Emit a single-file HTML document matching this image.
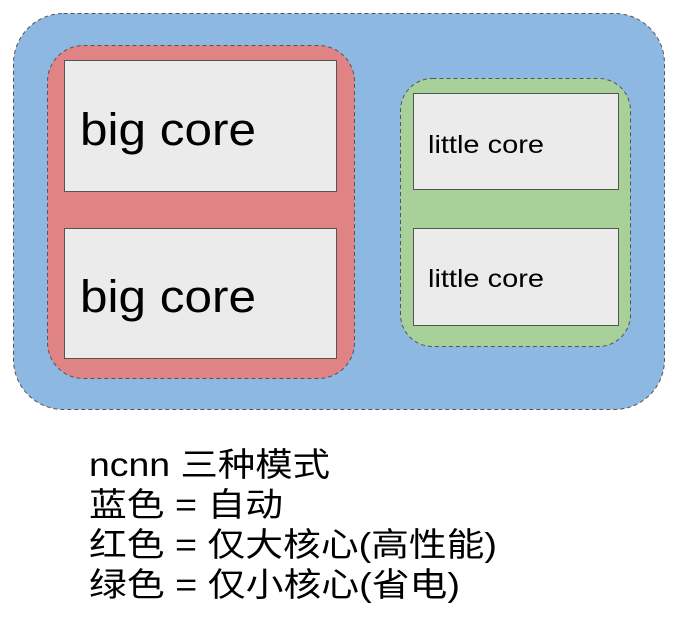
<!DOCTYPE html>
<html><head><meta charset="utf-8"><style>
body{margin:0;width:675px;height:627px;background:#fff;overflow:hidden}
</style></head><body>
<svg width="675" height="627" xmlns="http://www.w3.org/2000/svg" style="position:absolute;left:0;top:0">
<rect x="13.5" y="13.5" width="651" height="396" rx="50" fill="#8db8e2" stroke="#555" stroke-dasharray="4,3"/>
<rect x="47.5" y="45.5" width="307" height="333" rx="36" fill="#e08385" stroke="#555" stroke-dasharray="4,3"/>
<rect x="64.5" y="60.5" width="272" height="131" fill="#ebebeb" stroke="#555"/>
<rect x="64.5" y="228.5" width="272" height="130" fill="#ebebeb" stroke="#555"/>
<rect x="400.5" y="78.5" width="230" height="268" rx="32" fill="#a8d19a" stroke="#555" stroke-dasharray="4,3"/>
<rect x="413.5" y="93.5" width="205" height="96" fill="#ebebeb" stroke="#555"/>
<rect x="413.5" y="228.5" width="205" height="97" fill="#ebebeb" stroke="#555"/>
<g font-family="Liberation Sans, sans-serif" fill="#000">
<text x="80" y="145" font-size="45" textLength="176" lengthAdjust="spacingAndGlyphs">big core</text>
<text x="80" y="312" font-size="45" textLength="176" lengthAdjust="spacingAndGlyphs">big core</text>
<text x="428" y="153" font-size="25" textLength="116" lengthAdjust="spacingAndGlyphs">little core</text>
<text x="428" y="287" font-size="25" textLength="116" lengthAdjust="spacingAndGlyphs">little core</text>
</g>
<g font-family="Liberation Sans, 'Noto Sans CJK SC', sans-serif" font-size="33" fill="#000" lengthAdjust="spacingAndGlyphs">
<text x="89" y="476" textLength="241" lengthAdjust="spacingAndGlyphs">ncnn 三种模式</text>
<text x="89" y="516" textLength="194" lengthAdjust="spacingAndGlyphs">蓝色 = 自动</text>
<text x="89" y="556" textLength="408" lengthAdjust="spacingAndGlyphs">红色 = 仅大核心(高性能)</text>
<text x="89" y="596" textLength="371" lengthAdjust="spacingAndGlyphs">绿色 = 仅小核心(省电)</text>
</g>
</svg>
</body></html>
